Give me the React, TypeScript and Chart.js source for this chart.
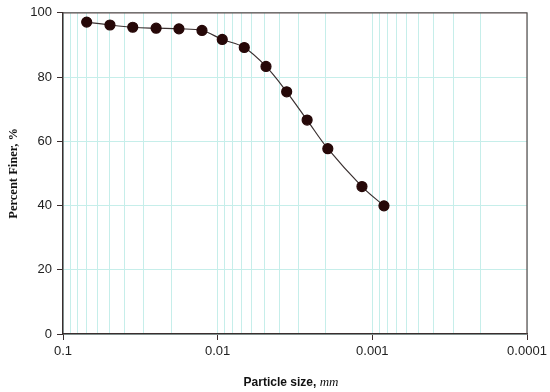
import React, { useEffect, useRef } from "react";
import { Chart, registerables } from "chart.js";

Chart.register(...registerables);

// Particle size (mm) and percent finer
const particleSize = [0.0703, 0.0497, 0.0354, 0.025, 0.0178, 0.01263, 0.00934, 0.00673, 0.00487, 0.00358, 0.00264, 0.00194, 0.001167, 0.000841];
const percentFiner = [97.1, 96.2, 95.5, 95.2, 95.0, 94.5, 91.7, 89.2, 83.3, 75.4, 66.6, 57.7, 45.9, 39.9];

const xTickValues = [0.1, 0.01, 0.001, 0.0001];
const xTickLabels = ["0.1", "0.01", "0.001", "0.0001"];
const yTickValues = [0, 20, 40, 60, 80, 100];

const GRID = "#c6eeea";
const AXIS = "#3b2e2e";
const SANS = "Arial, 'Liberation Sans', sans-serif";
const SERIF = "'Times New Roman', 'Liberation Serif', serif";

function isDecade(v: number) {
  const l = Math.log10(v);
  return Math.abs(l - Math.round(l)) < 1e-6;
}

function labelFor(v: number) {
  for (let i = 0; i < xTickValues.length; i++) {
    if (Math.abs(Math.log10(v) - Math.log10(xTickValues[i])) < 1e-6) return xTickLabels[i];
  }
  return "";
}

const framePlugin = {
  id: "frame",
  afterDraw(chart: any) {
    const { ctx, chartArea } = chart;
    const { left, top, right, bottom } = chartArea;
    ctx.save();
    ctx.strokeStyle = "#5a4a4a";
    ctx.lineWidth = 1.2;
    ctx.beginPath();
    ctx.moveTo(left, top);
    ctx.lineTo(right, top);
    ctx.lineTo(right, bottom);
    ctx.stroke();

    // x-axis title with mixed fonts
    const part1 = "Particle size, ";
    const part2 = "mm";
    const f1 = `bold 12px ${SANS}`;
    const f2 = `italic 13px ${SERIF}`;
    ctx.font = f1;
    const w1 = ctx.measureText(part1).width;
    ctx.font = f2;
    const w2 = ctx.measureText(part2).width;
    const cx = (left + right) / 2 - 4;
    const y = 383;
    let x = cx - (w1 + w2) / 2;
    ctx.fillStyle = "#111";
    ctx.textBaseline = "middle";
    ctx.textAlign = "left";
    ctx.font = f1;
    ctx.fillText(part1, x, y);
    x += w1;
    ctx.font = f2;
    ctx.fillText(part2, x, y);
    ctx.restore();
  },
};

export default function App() {
  const ref = useRef<HTMLCanvasElement | null>(null);

  useEffect(() => {
    document.body.style.margin = "0";
    if (!ref.current) return;
    const chart = new Chart(ref.current, {
      type: "line",
      data: {
        datasets: [
          {
            data: particleSize.map((s, i) => ({ x: s, y: percentFiner[i] })),
            borderColor: "#3a3030",
            borderWidth: 1.2,
            backgroundColor: "#260808",
            pointBackgroundColor: "#260808",
            pointBorderColor: "#260808",
            pointRadius: 5,
            tension: 0.35,
            fill: false,
          },
        ],
      },
      options: {
        responsive: false,
        animation: false,
        layout: { padding: { top: 10, right: 23, left: 0, bottom: 0 } },
        plugins: {
          legend: { display: false },
          tooltip: { enabled: false },
        },
        scales: {
          x: {
            type: "logarithmic",
            reverse: true,
            min: 0.0001,
            max: 0.1,
            afterBuildTicks(scale: any) {
              const ticks: any[] = [];
              for (let e = -4; e <= -1; e++) {
                for (let m = 1; m <= 9; m++) {
                  if (e === -1 && m > 1) break;
                  const v = Number((m * Math.pow(10, e)).toPrecision(6));
                  ticks.push({ value: v, major: isDecade(v) });
                }
              }
              scale.ticks = ticks;
            },
            afterFit(scale: any) {
              scale.height = 58;
            },
            ticks: {
              autoSkip: false,
              maxRotation: 0,
              minRotation: 0,
              padding: 4,
              color: "#222",
              font: { family: SANS, size: 13 },
              callback: (v: any) => labelFor(Number(v)),
            },
            grid: {
              color: GRID,
              lineWidth: 1,
              tickLength: 6,
              tickColor: (ctx: any) => (ctx.tick && isDecade(ctx.tick.value) ? AXIS : "rgba(0,0,0,0)"),
            },
            border: { color: AXIS, width: 1.5 },
            title: { display: false },
          },
          y: {
            min: 0,
            max: 100,
            afterBuildTicks(scale: any) {
              scale.ticks = yTickValues.map((v) => ({ value: v }));
            },
            afterFit(scale: any) {
              scale.width = 63;
            },
            ticks: {
              padding: 5,
              color: "#222",
              font: { family: SANS, size: 13 },
            },
            grid: {
              color: GRID,
              lineWidth: 1,
              tickLength: 6,
              tickColor: AXIS,
            },
            border: { color: AXIS, width: 1.5 },
            title: {
              display: true,
              text: "Percent Finer, %",
              color: "#111",
              font: { family: SERIF, size: 12.5, weight: "bold" },
              padding: { top: 6, bottom: 0 },
            },
          },
        },
      },
      plugins: [framePlugin],
    } as any);
    return () => chart.destroy();
  }, []);

  return (
    <div style={{ width: 550, height: 392, position: "relative" }}>
      <canvas ref={ref} width={550} height={392} />
    </div>
  );
}
